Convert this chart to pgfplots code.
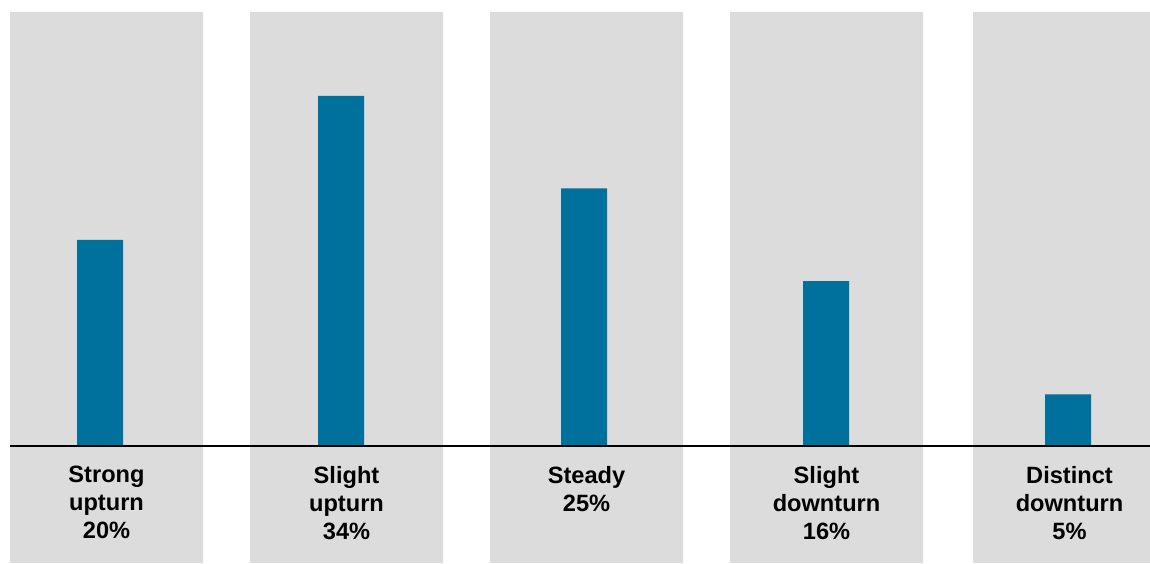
\documentclass[border=0pt]{standalone}
\usepackage{pgfplots}
\pgfplotsset{compat=1.18}
\usepackage{fontspec}
\setmainfont{Liberation Sans}
\definecolor{barblue}{HTML}{00709C}
\definecolor{bggray}{HTML}{DCDCDC}
\begin{document}
\begin{tikzpicture}
\begin{axis}[
    scale only axis,
    width=575pt, height=281.5pt,
    xmin=0, xmax=1150,
    ymin=-11.36, ymax=43.3,
    axis lines=none,
    xtick=\empty, ytick=\empty,
    clip=true,
]
% grey column backgrounds (above and below the baseline)
\addplot[ybar, bar width=193, bar shift=0pt, fill=bggray, draw=none] coordinates {
  (106.5,42.14) (346.5,42.14) (586.5,42.14) (826.5,42.14) (1069.5,42.14)
};
\addplot[ybar, bar width=193, bar shift=0pt, fill=bggray, draw=none] coordinates {
  (106.5,-11.36) (346.5,-11.36) (586.5,-11.36) (826.5,-11.36) (1069.5,-11.36)
};
% shares
\addplot[ybar, bar width=46, bar shift=0pt, fill=barblue, draw=none] coordinates {
  (100,20) (341,34) (584,25) (826,16) (1068,5)
};
% baseline
\addplot[black, line width=1pt] coordinates {(10,0) (1150,0)};
\path (rel axis cs:0,0) rectangle (rel axis cs:1,1);
\tikzset{lab/.style={anchor=north, align=center, inner sep=0pt,
  font=\bfseries\fontsize{11.8}{14}\selectfont}}
\node[lab] at (axis cs:106.5,-1.95) {Strong\\upturn\\20\%};
\node[lab] at (axis cs:346.5,-1.95) {Slight\\upturn\\34\%};
\node[lab] at (axis cs:586.5,-1.95) {Steady\\25\%};
\node[lab] at (axis cs:826.5,-1.95) {Slight\\downturn\\16\%};
\node[lab] at (axis cs:1069.5,-1.95) {Distinct\\downturn\\5\%};
\end{axis}
\end{tikzpicture}
\end{document}
